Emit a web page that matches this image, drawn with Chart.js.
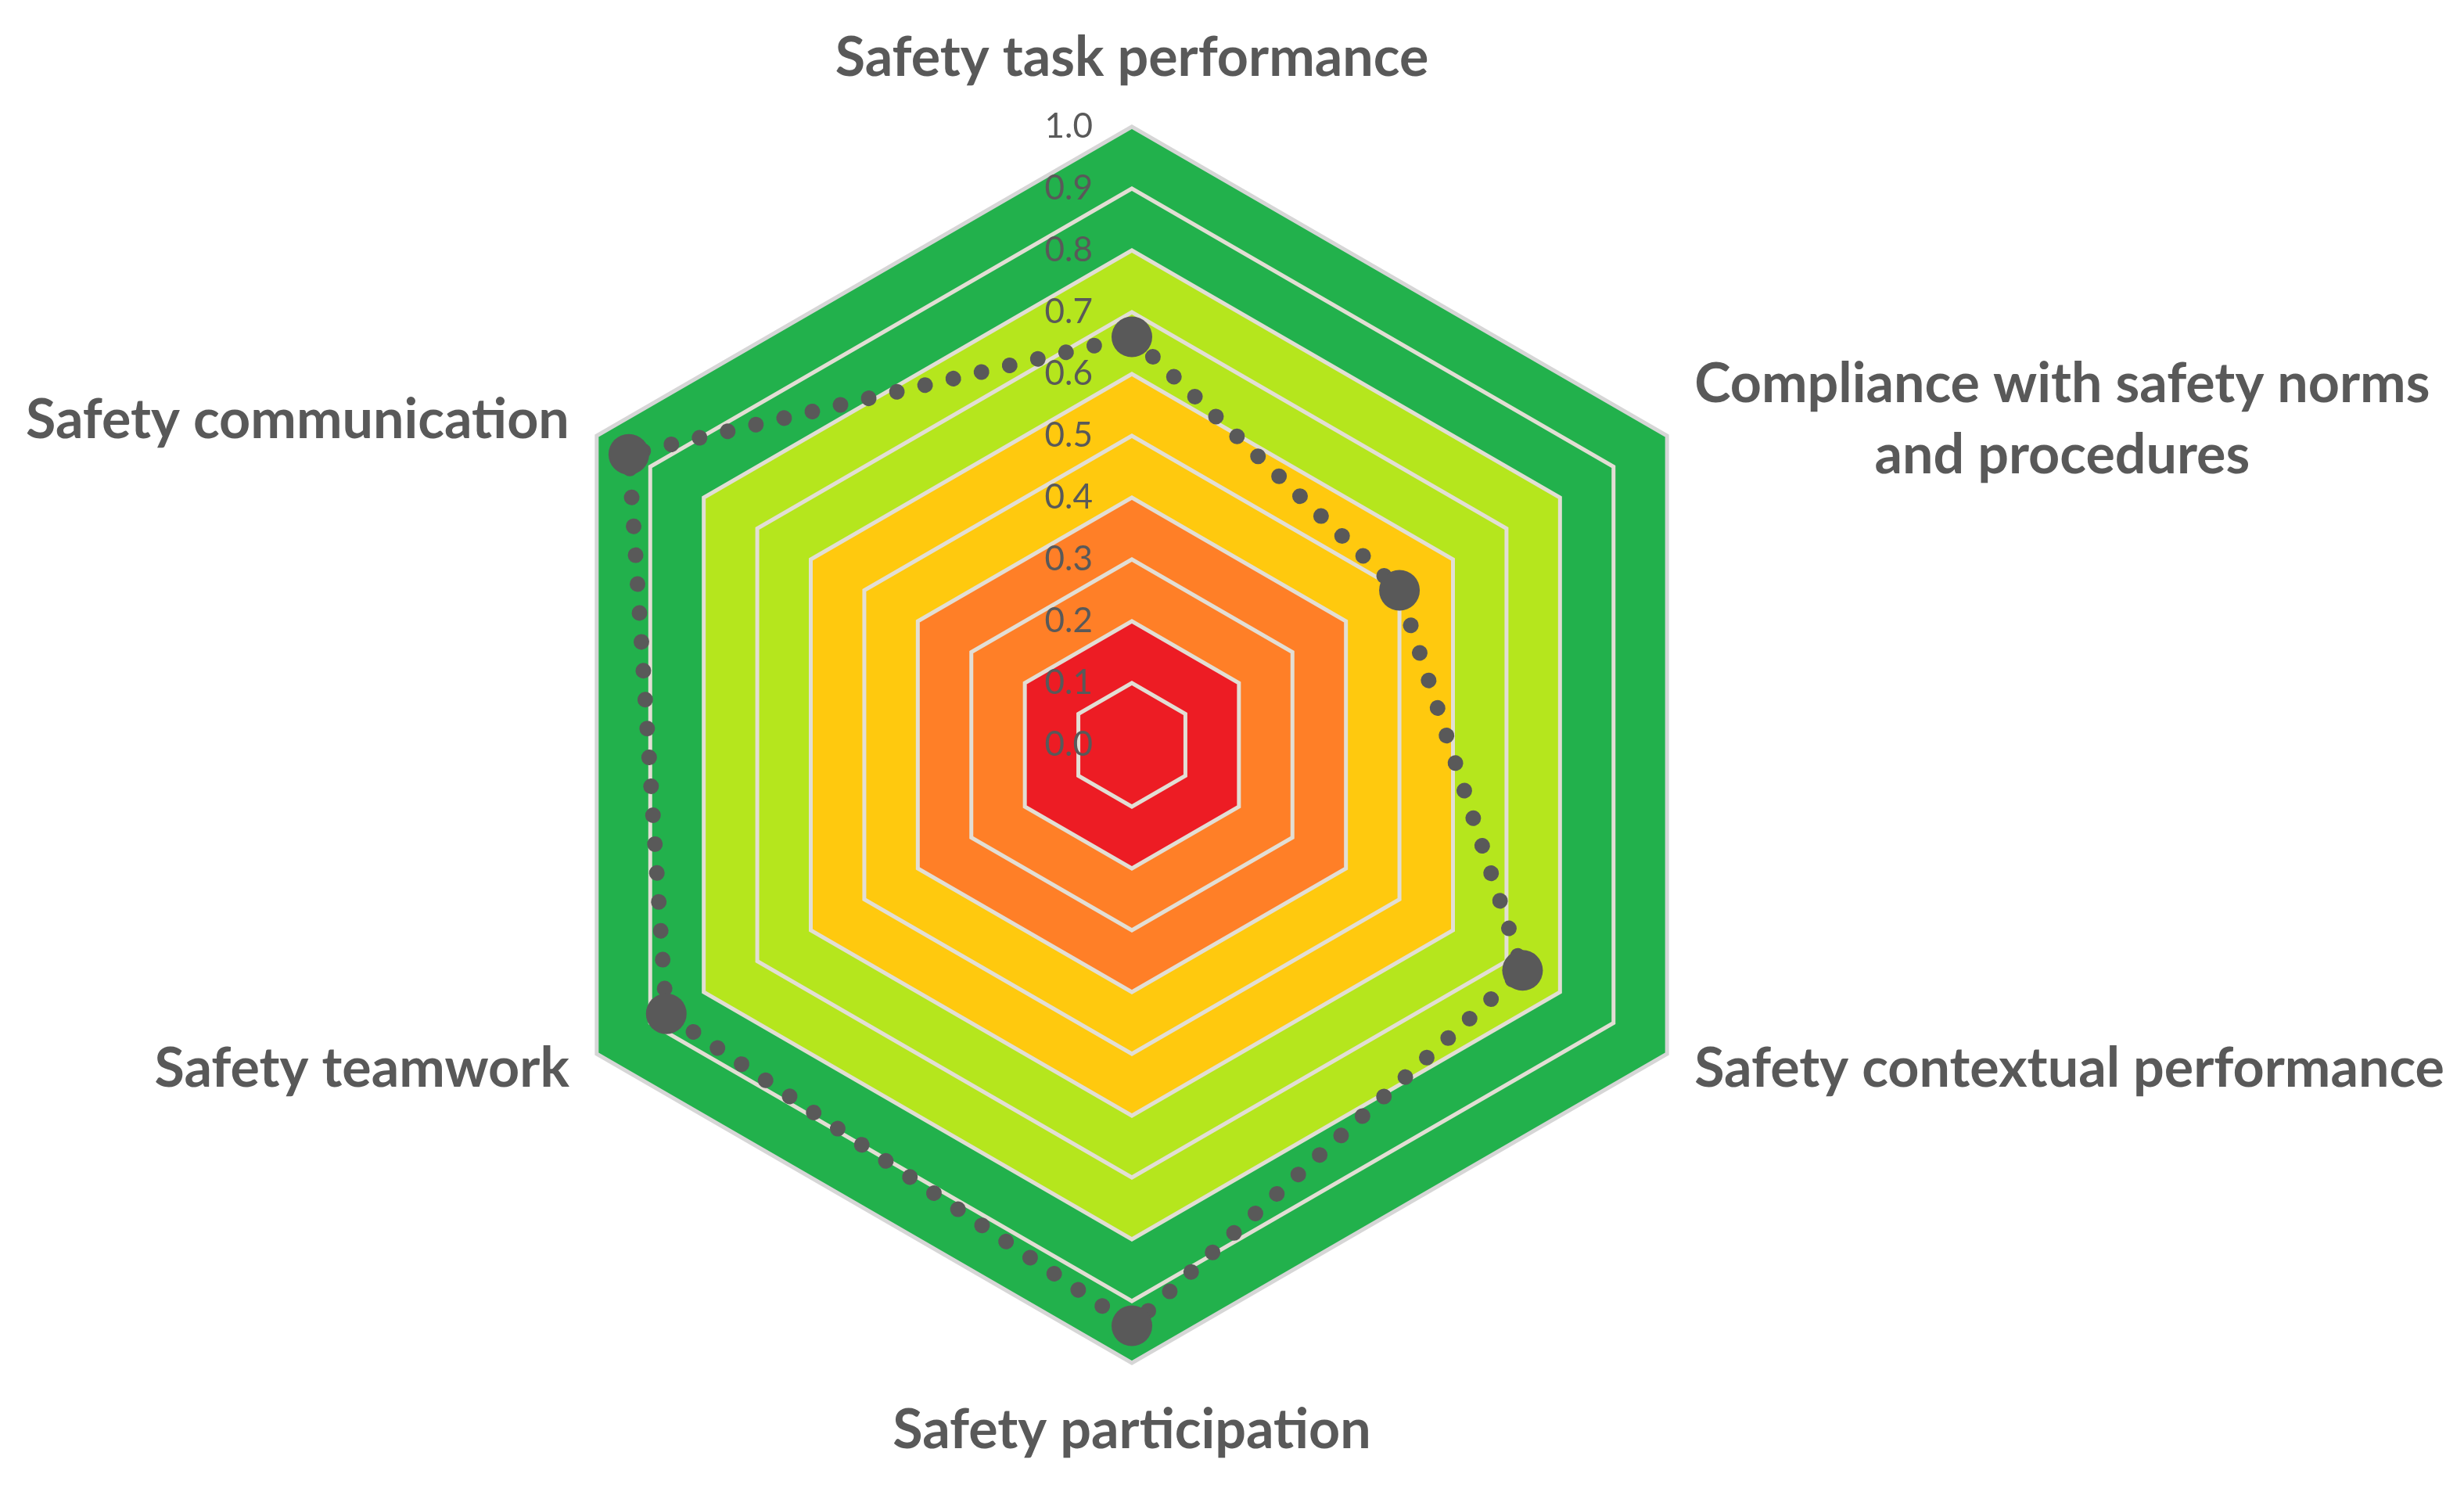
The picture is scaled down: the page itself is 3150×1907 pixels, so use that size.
<!DOCTYPE html>
<html>
<head>
<meta charset="utf-8">
<title>Safety performance radar</title>
<script src="https://cdn.jsdelivr.net/npm/chart.js@4.4.1/dist/chart.umd.min.js"></script>
<style>
  html, body { margin: 0; padding: 0; background: #ffffff; }
  #radar { display: block; }
</style>
</head>
<body>
<canvas id="radar" width="3150" height="1907"></canvas>
<script>
const categories = [
    'Safety task performance',
    ['Compliance with safety norms', 'and procedures'],
    'Safety contextual performance',
    'Safety participation',
    'Safety teamwork',
    'Safety communication'
];
const scores = [0.66, 0.50, 0.73, 0.94, 0.87, 0.94];
const ringLevels = [1.0, 0.9, 0.8, 0.7, 0.6, 0.5, 0.4, 0.3, 0.2, 0.1];
const tickLabels = ['0.0', '0.1', '0.2', '0.3', '0.4', '0.5', '0.6', '0.7', '0.8', '0.9', '1.0'];

// one colour per ring, outermost first (green -> red)
const ringColors = ['#22b14c', '#22b14c', '#b5e61d', '#b5e61d', '#ffc90e', '#ffc90e', '#ff7f27', '#ff7f27', '#ed1c24', '#ed1c24'];
const textColor = '#595959';

const ringDatasets = ringLevels.map((level, i) => ({
    data: categories.map(() => level),
    backgroundColor: ringColors[i],
    borderColor: i === 0 ? '#d6d6d6' : '#e2ded4',
    borderWidth: 5,
    fill: true,
    pointRadius: 0,
    order: 20 - i
}));

const scoreDataset = {
    data: scores,
    borderColor: textColor,
    borderWidth: 20,
    borderDash: [0.01, 37],
    borderCapStyle: 'round',
    fill: false,
    pointRadius: 26,
    pointBackgroundColor: textColor,
    pointBorderWidth: 0,
    order: 0
};

// axis values drawn left of the vertical axis, under the score line
const tickText = {
    id: 'tickText',
    beforeDatasetDraw(chart, args) {
        if (args.index !== chart.data.datasets.length - 1) return;
        const scale = chart.scales.r;
        const ctx = chart.ctx;
        ctx.save();
        ctx.fillStyle = textColor;
        ctx.font = '44px Lato';
        ctx.textAlign = 'right';
        ctx.textBaseline = 'middle';
        tickLabels.forEach(t => {
            const d = scale.getDistanceFromCenterForValue(parseFloat(t));
            ctx.fillText(t, scale.xCenter - 50, scale.yCenter - d);
        });
        ctx.restore();
    }
};

// category names, multi-line ones centred on each other
const axisLabels = {
    id: 'axisLabels',
    afterDraw(chart) {
        const scale = chart.scales.r;
        const ctx = chart.ctx;
        ctx.save();
        ctx.fillStyle = textColor;
        ctx.font = 'bold 70px Lato';
        ctx.textAlign = 'center';
        ctx.textBaseline = 'middle';
        const lineHeight = 91;
        chart.data.labels.forEach((label, i) => {
            const lines = [].concat(label);
            const p = scale.getPointPosition(i, scale.drawingArea);
            const dx = p.x - scale.xCenter;
            const dy = p.y - scale.yCenter;
            const blockW = Math.max(...lines.map(t => ctx.measureText(t).width));
            let cx, cy;
            if (Math.abs(dx) < 1) {
                cx = p.x;
                cy = p.y + (dy < 0 ? -88 : 86);
            } else {
                cx = dx > 0 ? p.x + 35 + blockW / 2 : p.x - 35 - blockW / 2;
                cy = p.y + (dy < 0 ? -20 : 19);
            }
            lines.forEach((t, k) => {
                ctx.fillText(t, cx, cy + (k - (lines.length - 1) / 2) * lineHeight);
            });
        });
        ctx.restore();
    }
};

new Chart(document.getElementById('radar'), {
    type: 'radar',
    data: {
        labels: categories,
        datasets: [...ringDatasets, scoreDataset]
    },
    options: {
        responsive: false,
        animation: false,
        layout: {
            padding: { top: 162, bottom: 165, left: 547, right: 803 }
        },
        plugins: {
            legend: { display: false },
            tooltip: { enabled: false }
        },
        scales: {
            r: {
                min: 0,
                max: 1,
                ticks: { display: false, stepSize: 0.1 },
                grid: { display: false },
                angleLines: { display: false },
                pointLabels: { display: false }
            }
        }
    },
    plugins: [tickText, axisLabels]
});
</script>
</body>
</html>
